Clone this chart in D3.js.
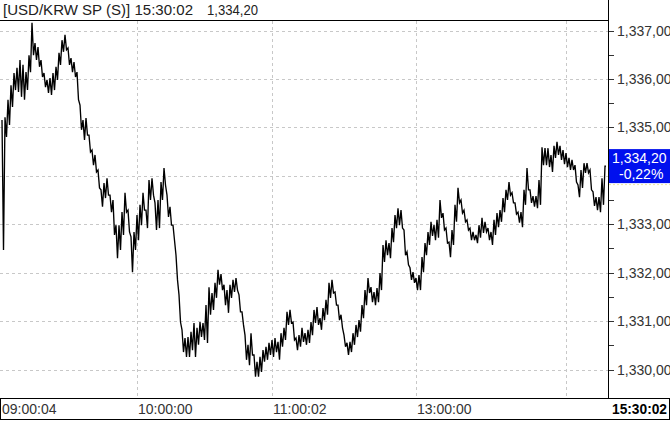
<!DOCTYPE html>
<html><head><meta charset="utf-8">
<script src="https://cdn.jsdelivr.net/npm/d3@7/dist/d3.min.js"></script>
<style>html,body{margin:0;padding:0;background:#fff;overflow:hidden}</style>
</head><body>
<svg id="c" width="670" height="421"></svg>
<script>
// ---- data (USD/KRW spot, per-interval high / low) ----
const highs = [
1335.15,1335.21,1335.57,1335.87,1336.12,1336.23,1336.39,1336.29,1336.14,1336.49,
1337.16,1336.74,1336.66,1336.39,1336.12,1335.98,1336.02,1336.12,1336.25,1336.54,
1336.80,1336.91,1336.64,1336.43,1336.35,1336.14,1335.46,1335.15,1335.19,1334.84,
1334.53,1334.43,1334.12,1333.71,1333.85,1333.95,1333.60,1333.50,1332.98,1332.98,
1333.25,1333.65,1333.29,1332.74,1332.84,1333.19,1333.40,1333.65,1333.29,1333.91,
1333.95,1333.44,1333.50,1333.87,1334.16,1333.60,1333.36,1332.98,1332.36,1331.54,
1330.82,1330.65,1330.67,1330.78,1330.96,1330.86,1330.98,1330.96,1331.33,1331.70,
1331.58,1331.79,1332.06,1331.97,1331.75,1331.64,1331.75,1331.85,1331.89,1331.54,
1331.19,1330.71,1330.51,1330.75,1330.30,1330.16,1330.26,1330.40,1330.47,1330.55,
1330.61,1330.65,1330.57,1330.75,1330.86,1331.19,1331.23,1330.98,1330.65,1330.71,
1330.86,1330.75,1330.82,1330.98,1331.23,1331.29,1331.06,1331.27,1331.44,1331.79,
1331.85,1331.60,1331.33,1331.13,1330.71,1330.55,1330.57,1330.75,1330.92,1331.02,
1331.33,1331.64,1331.89,1331.70,1331.60,1331.68,1331.99,1332.57,1332.67,1332.61,
1332.92,1333.19,1333.33,1333.29,1332.88,1332.43,1332.10,1332.01,1331.89,1331.95,
1332.32,1332.61,1332.84,1333.05,1332.98,1333.09,1333.50,1333.23,1332.92,1332.63,
1332.88,1333.40,1333.75,1333.50,1333.29,1333.09,1332.92,1332.84,1332.78,1332.98,
1333.13,1333.05,1332.92,1332.84,1333.09,1333.23,1333.29,1333.54,1333.71,1333.87,
1333.65,1333.44,1333.25,1333.25,1333.71,1334.16,1333.71,1333.58,1333.58,1333.91,
1334.59,1334.57,1334.57,1334.43,1334.62,1334.70,1334.62,1334.53,1334.47,1334.37,
1334.33,1334.22,1333.81,1334.12,1334.26,1334.26,1334.12,1333.67,1333.56,1333.56,
1333.95,1334.20];
const lows = [
1332.47,1334.80,1335.05,1335.42,1335.77,1335.73,1335.63,1335.57,1335.77,1336.14,
1336.49,1336.39,1336.25,1336.04,1335.83,1335.71,1335.67,1335.77,1335.98,1336.29,
1336.56,1336.60,1336.29,1336.14,1336.04,1335.57,1334.95,1334.74,1334.84,1334.49,
1334.22,1334.08,1333.75,1333.36,1333.54,1333.60,1333.25,1332.78,1332.30,1332.47,
1332.78,1333.25,1332.84,1332.01,1332.47,1332.67,1332.98,1333.29,1332.92,1333.50,
1333.60,1332.88,1332.92,1333.50,1333.81,1333.15,1332.98,1332.67,1331.85,1330.98,
1330.36,1330.26,1330.26,1330.40,1330.26,1330.51,1330.67,1330.61,1330.55,1331.13,
1331.23,1331.48,1331.75,1331.64,1331.33,1331.17,1331.48,1331.60,1331.64,1331.19,
1330.92,1330.20,1330.09,1330.30,1329.85,1329.85,1329.95,1330.16,1330.20,1330.30,
1330.26,1330.36,1330.20,1330.47,1330.61,1330.92,1330.96,1330.61,1330.40,1330.47,
1330.57,1330.51,1330.55,1330.71,1330.96,1330.92,1330.82,1331.02,1331.13,1331.48,
1331.58,1331.33,1331.02,1330.86,1330.47,1330.30,1330.36,1330.51,1330.67,1330.78,
1331.06,1331.33,1331.58,1331.39,1331.33,1331.39,1331.64,1332.22,1332.36,1332.30,
1332.63,1332.92,1332.98,1332.92,1332.36,1332.16,1331.85,1331.79,1331.64,1331.64,
1332.01,1332.36,1332.57,1332.76,1332.67,1332.72,1333.13,1332.88,1332.61,1332.32,
1332.57,1333.05,1333.44,1333.23,1333.05,1332.88,1332.67,1332.67,1332.61,1332.72,
1332.82,1332.84,1332.67,1332.57,1332.78,1332.94,1333.05,1333.25,1333.50,1333.60,
1333.44,1333.21,1333.03,1332.94,1333.40,1333.71,1333.44,1333.36,1333.33,1333.40,
1334.22,1334.22,1334.18,1334.08,1334.37,1334.43,1334.33,1334.24,1334.18,1334.12,
1334.12,1333.87,1333.56,1333.75,1334.06,1334.06,1333.71,1333.38,1333.29,1333.25,
1333.40,1333.91];
const lastPrice = 1334.20;
const changePct = "-0,22%";
const titleText = "[USD/KRW SP (S)] 15:30:02";
const lastTime = "15:30:02";
const yTickValues = [1330, 1331, 1332, 1333, 1334, 1335, 1336, 1337];
const yMinorValues = [1330.5, 1331.5, 1332.5, 1333.5, 1334.5, 1335.5, 1336.5];
const xGridIndex = [45, 90, 138, 188];
const xLabelIndex = [0, 45, 90, 138];
const xLabels = ["09:00:04", "10:00:00", "11:00:02", "13:00:00"];

// ---- layout ----
const svg = d3.select("#c");
const W = 670, H = 421;
const plotR = 608, plotT = 21, plotB = 398;
const fmt = v => d3.format(",.2f")(v).replace(".", ",");
const FONT = "'Liberation Sans', Arial, sans-serif";

const x = d3.scaleLinear().domain([0, highs.length - 1]).range([2, 605]);
const y = d3.scaleLinear().domain([1330, 1337]).range([369.5, 30.5]);
const by = y(lastPrice);
const hiddenByBox = v => Math.abs(y(v) - by) < 17;

svg.append("rect").attr("width", W).attr("height", H).attr("fill", "#fff");

svg.append("defs").append("clipPath").attr("id", "pc")
  .append("rect").attr("x", 0).attr("y", plotT).attr("width", plotR).attr("height", plotB - plotT);

// grid
const grid = svg.append("g").attr("stroke", "#c8c8c8").attr("stroke-dasharray", "3,3").attr("shape-rendering", "crispEdges");
grid.selectAll("line.h").data(yTickValues).join("line")
  .attr("x1", 0).attr("x2", plotR).attr("y1", d => Math.round(y(d)) + 0.5).attr("y2", d => Math.round(y(d)) + 0.5);
grid.selectAll("line.v").data(xGridIndex).join("line")
  .attr("y1", plotT).attr("y2", plotB).attr("x1", d => Math.round(x(d)) + 0.5).attr("x2", d => Math.round(x(d)) + 0.5);

// price line: zig-zag through high and low of each interval
const pts = [];
highs.forEach((h, i) => { pts.push([x(i), y(h)]); pts.push([x(i + 0.5), y(lows[i])]); });
pts.pop();
pts.push([x(highs.length - 1) + 1, y(lastPrice)]);
svg.append("path").attr("clip-path", "url(#pc)")
  .attr("d", d3.line()(pts)).attr("fill", "none").attr("stroke", "#000").attr("stroke-width", 1.35)
  .attr("stroke-linejoin", "miter");

// frame
const frame = svg.append("g").attr("stroke", "#000").attr("shape-rendering", "crispEdges");
frame.append("line").attr("x1", 0).attr("x2", plotR).attr("y1", 20.5).attr("y2", 20.5);
frame.append("line").attr("x1", plotR + 0.5).attr("x2", plotR + 0.5).attr("y1", 0).attr("y2", plotB);
frame.append("rect").attr("x", 0.5).attr("y", plotB + 0.5).attr("width", W - 1.5).attr("height", H - plotB - 2).attr("fill", "none");

// y axis ticks and labels
const yAxis = svg.append("g");
yAxis.selectAll("line.t").data(yTickValues.concat(yMinorValues).filter(v => !hiddenByBox(v))).join("line")
  .attr("x1", plotR + 1).attr("x2", plotR + 6)
  .attr("y1", d => Math.round(y(d)) + 0.5).attr("y2", d => Math.round(y(d)) + 0.5)
  .attr("stroke", "#333").attr("shape-rendering", "crispEdges");
yAxis.selectAll("text").data(yTickValues.filter(v => !hiddenByBox(v))).join("text")
  .attr("x", 617).attr("y", d => y(d)).attr("dy", "0.36em")
  .attr("font-family", FONT).attr("font-size", 14)
  .attr("fill", "#333").text(d => fmt(d));

// last price box
svg.append("rect").attr("x", plotR + 1).attr("y", by - 17).attr("width", W - plotR - 1).attr("height", 34).attr("fill", "#0010ee");
svg.append("line").attr("x1", plotR + 1).attr("x2", W).attr("y1", by + 18.5).attr("y2", by + 18.5)
  .attr("stroke", "#eee8a0").attr("stroke-dasharray", "2,2");
svg.append("text").attr("x", 612).attr("y", by - 3).attr("font-family", FONT)
  .attr("font-size", 14).attr("fill", "#fff").text(fmt(lastPrice));
svg.append("text").attr("x", 619).attr("y", by + 13).attr("font-family", FONT)
  .attr("font-size", 14).attr("fill", "#fff").text(changePct);

// x labels
svg.append("g").selectAll("text").data(xLabelIndex).join("text")
  .attr("x", d => Math.round(x(d)) + (d === 0 ? 0 : 1)).attr("y", 414)
  .attr("font-family", FONT).attr("font-size", 14).attr("fill", "#333")
  .text((d, i) => xLabels[i]);
svg.append("text").attr("x", 612).attr("y", 414).attr("font-family", FONT)
  .attr("font-size", 14).attr("font-weight", "bold").attr("fill", "#000")
  .attr("textLength", 55).attr("lengthAdjust", "spacingAndGlyphs").text(lastTime);

// title
svg.append("text").attr("x", 3).attr("y", 15).attr("font-family", FONT)
  .attr("font-size", 15).attr("fill", "#222").attr("textLength", 190).attr("lengthAdjust", "spacingAndGlyphs")
  .text(titleText);
svg.append("text").attr("x", 207).attr("y", 15).attr("font-family", FONT)
  .attr("font-size", 15).attr("fill", "#222").attr("textLength", 51).attr("lengthAdjust", "spacingAndGlyphs")
  .text(fmt(lastPrice));
</script>
</body></html>
